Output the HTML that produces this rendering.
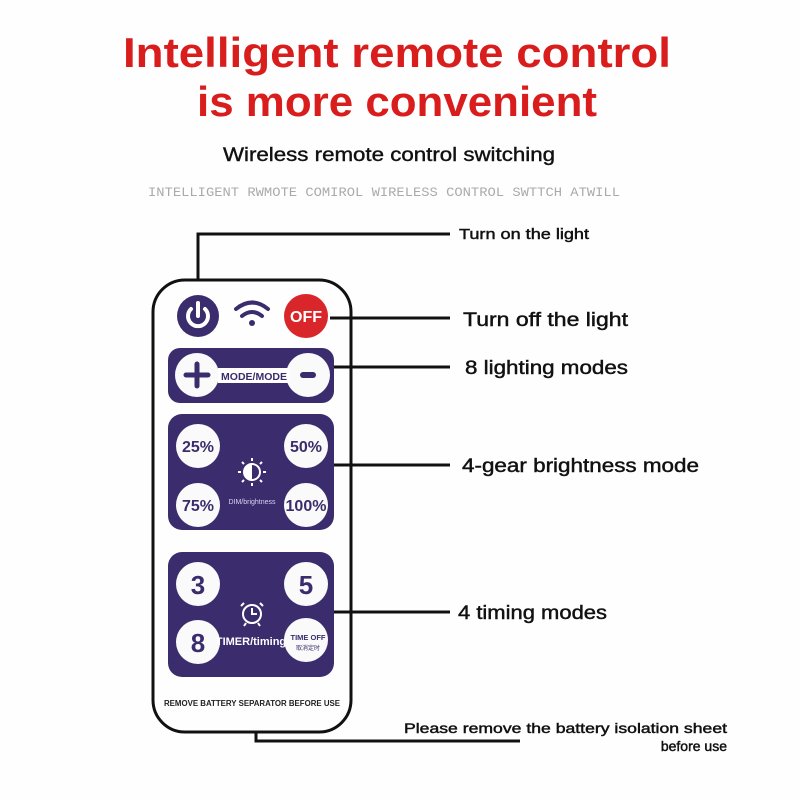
<!DOCTYPE html>
<html><head><meta charset="utf-8"><style>
html,body{margin:0;padding:0;background:#fff;}
svg{display:block}
</style></head><body>
<svg width="800" height="800" viewBox="0 0 800 800" xmlns="http://www.w3.org/2000/svg" font-family="Liberation Sans, DejaVu Sans, sans-serif">
<rect width="800" height="800" fill="#fefefe"/>
<text x="397" y="67" text-anchor="middle" font-size="42" font-weight="bold" fill="#d91c1c" textLength="548" lengthAdjust="spacingAndGlyphs">Intelligent remote control</text>
<text x="397" y="116" text-anchor="middle" font-size="42" font-weight="bold" fill="#d91c1c" textLength="400" lengthAdjust="spacingAndGlyphs">is more convenient</text>
<text x="389" y="161" text-anchor="middle" font-size="19" fill="#111" stroke="#111" stroke-width="0.4" textLength="332" lengthAdjust="spacingAndGlyphs">Wireless remote control switching</text>
<text x="384" y="196" text-anchor="middle" font-size="13" fill="#aaa" font-family="Liberation Mono, monospace" textLength="472" lengthAdjust="spacingAndGlyphs">INTELLIGENT RWMOTE COMIROL WIRELESS CONTROL SWTTCH ATWILL</text>

<g stroke="#111" stroke-width="3" fill="none">
<rect x="153" y="280" width="198" height="452" rx="32"/>
<polyline points="198,280 198,234 450,234"/>
<line x1="330" y1="318" x2="450" y2="318"/>
<line x1="334" y1="367" x2="450" y2="367"/>
<line x1="330" y1="465" x2="450" y2="465"/>
<line x1="330" y1="612" x2="450" y2="612"/>
<polyline points="256,732 256,741 520,741"/>
</g>

<circle cx="198" cy="316" r="21" fill="#3b2d6d"/>
<path d="M191 309 A10 10 0 1 0 205 309" stroke="#fff" stroke-width="4" fill="none" stroke-linecap="round"/>
<line x1="198" y1="303" x2="198" y2="316" stroke="#fff" stroke-width="4" stroke-linecap="round"/>
<g stroke="#3b2d6d" stroke-width="4" fill="none" stroke-linecap="round">
<path d="M236 309 Q252 296 268 309"/>
<path d="M242 316 Q252 308 262 316"/>
</g>
<circle cx="252" cy="323" r="3" fill="#3b2d6d"/>
<circle cx="306" cy="316" r="22" fill="#d9262a"/>
<text x="306" y="322" text-anchor="middle" font-size="16" font-weight="bold" fill="#fff">OFF</text>

<rect x="168" y="348" width="166" height="55" rx="12" fill="#3b2d6d"/>
<circle cx="197" cy="375" r="22" fill="#fafafa"/>
<circle cx="308" cy="375" r="22" fill="#fafafa"/>
<path d="M197 364 V386 M186 375 H208" stroke="#3b2d6d" stroke-width="5" stroke-linecap="round"/>
<path d="M303 375 H313" stroke="#3b2d6d" stroke-width="6" stroke-linecap="round"/>
<rect x="218" y="368" width="72" height="15" fill="#fff"/>
<text x="254" y="380" text-anchor="middle" font-size="10.5" font-weight="bold" fill="#3b2d6d">MODE/MODE</text>

<rect x="168" y="414" width="166" height="116" rx="14" fill="#3b2d6d"/>
<g fill="#fafafa"><circle cx="198" cy="446" r="22"/><circle cx="306" cy="446" r="22"/><circle cx="198" cy="505" r="22"/><circle cx="306" cy="505" r="22"/></g>
<g font-size="16" font-weight="bold" fill="#3b2d6d" text-anchor="middle">
<text x="198" y="452">25%</text><text x="306" y="452">50%</text><text x="198" y="511">75%</text><text x="306" y="511">100%</text></g>
<g stroke="#fff" stroke-width="2" fill="none">
<circle cx="252" cy="472" r="8"/>
<path d="M252 458 V461 M252 483 V486 M238 472 H241 M263 472 H266 M242 462 L244 464 M262 462 L260 464 M242 482 L244 480 M262 482 L260 480"/>
</g>
<path d="M252 464 A8 8 0 0 0 252 480 Z" fill="#fff"/>
<text x="252" y="504" text-anchor="middle" font-size="7" fill="#d8d0f4">DIM/brightness</text>

<rect x="168" y="552" width="166" height="125" rx="14" fill="#3b2d6d"/>
<g fill="#fafafa"><circle cx="198" cy="584" r="22"/><circle cx="306" cy="584" r="22"/><circle cx="198" cy="642" r="22"/><circle cx="306" cy="640" r="22"/></g>
<g font-size="26" font-weight="bold" fill="#3b2d6d" text-anchor="middle">
<text x="198" y="594">3</text><text x="306" y="594">5</text><text x="198" y="652">8</text></g>
<text x="308" y="640" text-anchor="middle" font-size="7.5" font-weight="bold" fill="#3b2d6d">TIME OFF</text>
<text x="308" y="650" text-anchor="middle" font-size="6" fill="#3b2d6d">取消定时</text>
<g stroke="#fff" stroke-width="2" fill="none">
<circle cx="252" cy="614" r="9"/>
<path d="M252 608 V614 H257 M244 603 L241 606 M260 603 L263 606 M246 623 L244 626 M258 623 L260 626"/>
</g>
<text x="251" y="645" text-anchor="middle" font-size="11" font-weight="bold" fill="#fff">TIMER/timing</text>

<text x="252" y="706" text-anchor="middle" font-size="8" font-weight="bold" fill="#222" textLength="176" lengthAdjust="spacingAndGlyphs">REMOVE BATTERY SEPARATOR BEFORE USE</text>

<g fill="#111" stroke="#111" stroke-width="0.45">
<text x="459" y="239" font-size="15" textLength="130" lengthAdjust="spacingAndGlyphs">Turn on the light</text>
<text x="463" y="326" font-size="19" textLength="165" lengthAdjust="spacingAndGlyphs">Turn off the light</text>
<text x="465" y="374" font-size="19" textLength="163" lengthAdjust="spacingAndGlyphs">8 lighting modes</text>
<text x="462" y="472" font-size="19" textLength="237" lengthAdjust="spacingAndGlyphs">4-gear brightness mode</text>
<text x="458" y="619" font-size="19" textLength="149" lengthAdjust="spacingAndGlyphs">4 timing modes</text>
<text x="727" y="733" font-size="14" text-anchor="end" textLength="323" lengthAdjust="spacingAndGlyphs">Please remove the battery isolation sheet</text>
<text x="727" y="751" font-size="14" text-anchor="end">before use</text>
</g>
</svg>
</body></html>
